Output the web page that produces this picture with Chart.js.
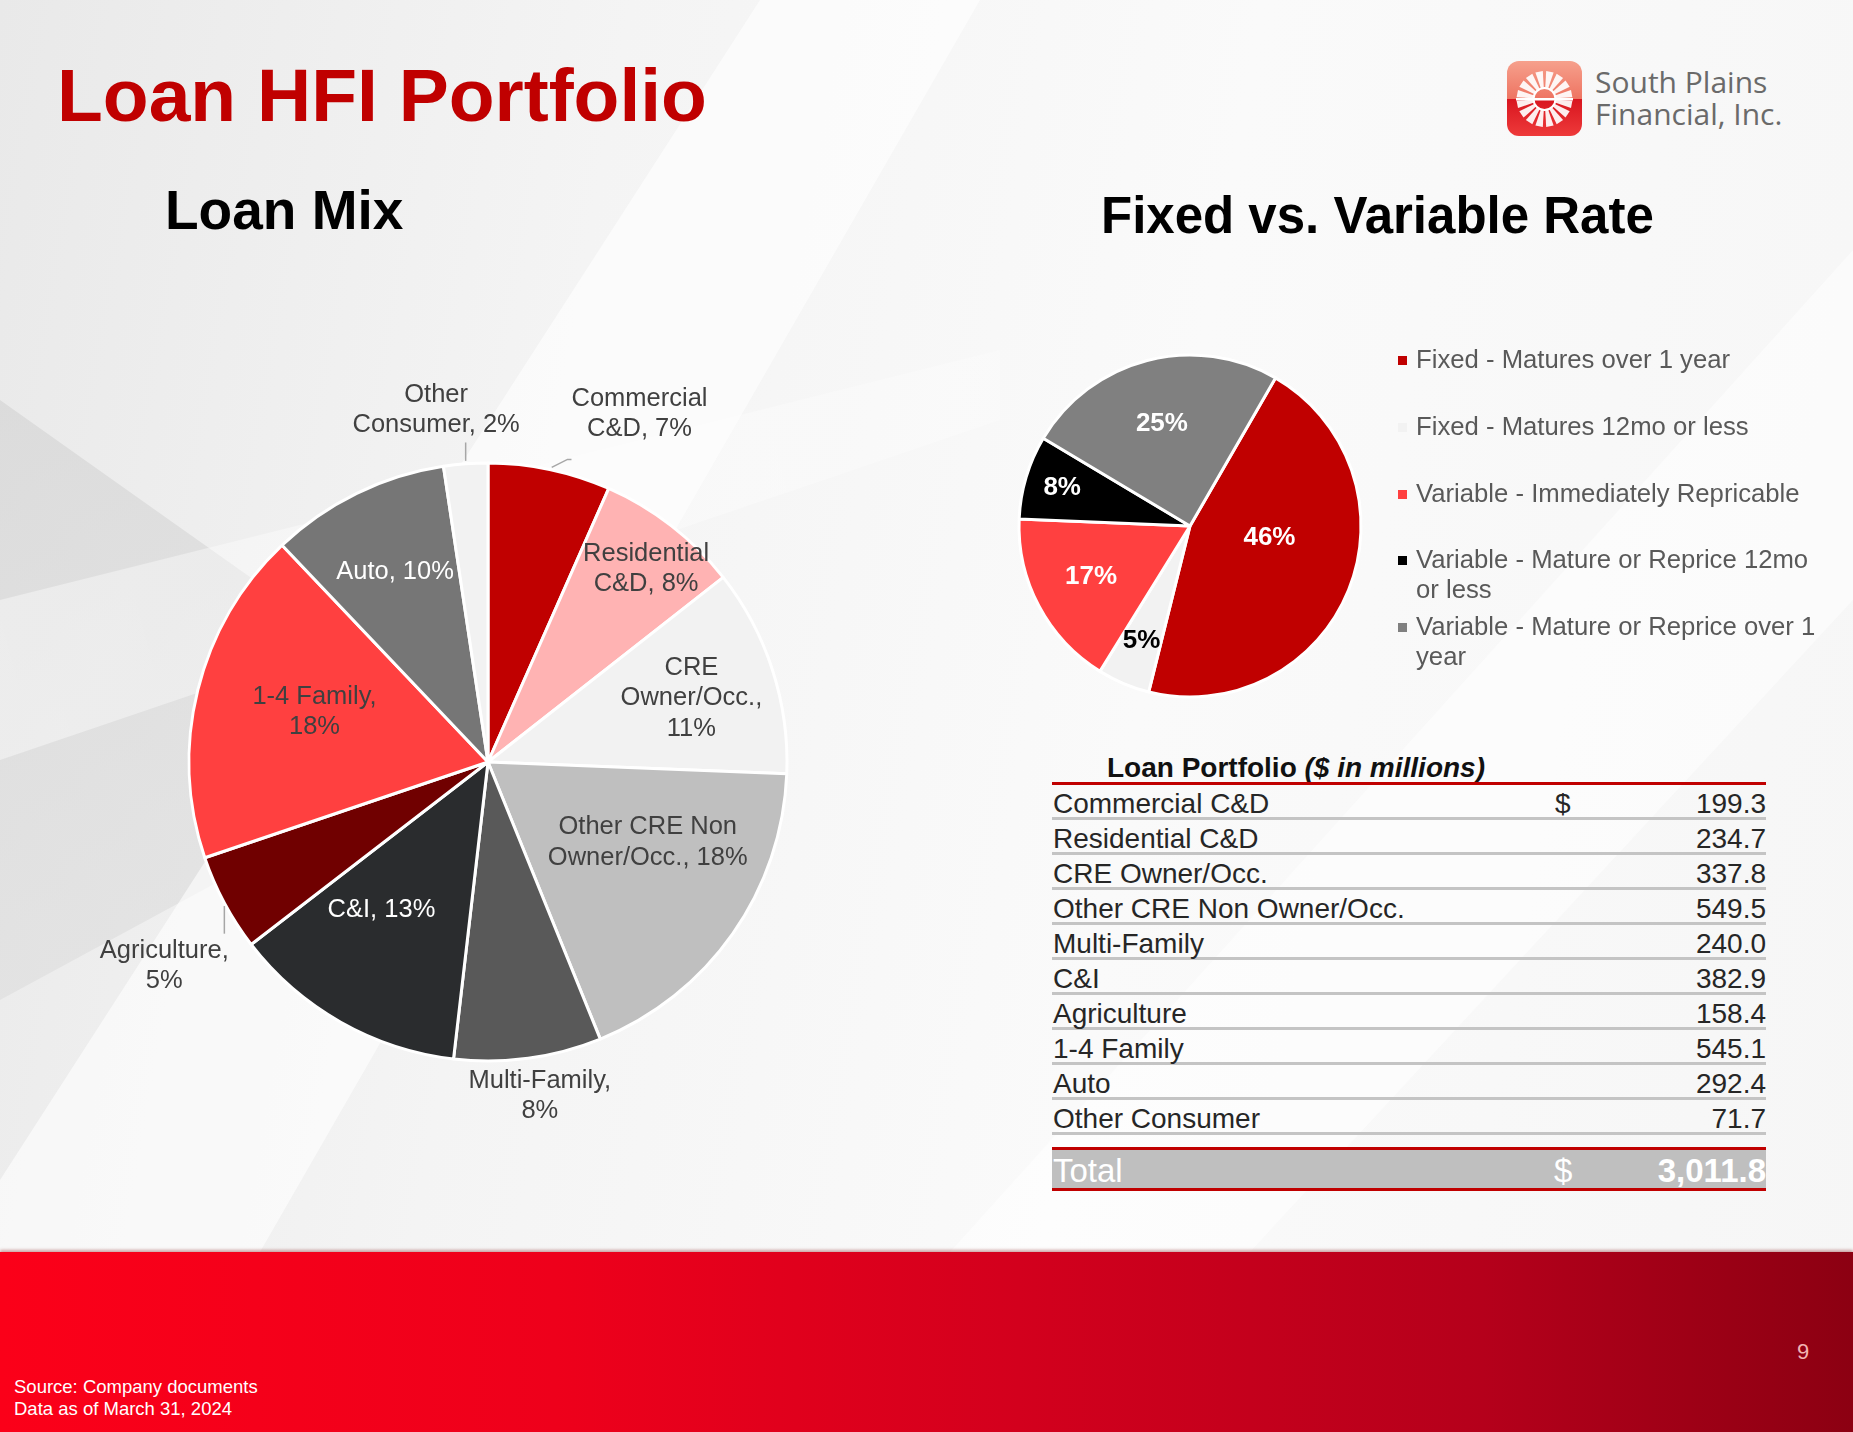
<!DOCTYPE html>
<html>
<head>
<meta charset="utf-8">
<script src="https://cdn.jsdelivr.net/npm/chart.js@4.4.1/dist/chart.umd.min.js"></script>
<style>
  html, body { margin: 0; padding: 0; }
  body {
    width: 1853px; height: 1432px; position: relative; overflow: hidden;
    font-family: "Liberation Sans", Arial, sans-serif;
    background: linear-gradient(100deg, #e9e9e9 0%, #f4f4f4 30%, #fafafa 60%, #f6f6f6 100%);
  }
  .bg { position: absolute; left: 0; top: 0; width: 1853px; height: 1432px; }
  .bg1 { background: linear-gradient(160deg, #cfcfcf 0%, #dedede 45%, #ececec 100%);
         clip-path: polygon(0 400px, 480px 740px, 0 1000px); opacity: .7; }
  .bg2 { background: rgba(255,255,255,.6);
         clip-path: polygon(760px 0, 980px 0, 260px 1252px, 0 1252px, 0 1180px); }
  .bg3 { background: rgba(255,255,255,.5);
         clip-path: polygon(1853px 250px, 1853px 600px, 1250px 1252px, 950px 1252px); }
  .bg4 { background: linear-gradient(75deg, rgba(255,255,255,.45) 0%, rgba(255,255,255,.3) 50%, rgba(255,255,255,0) 80%);
         clip-path: polygon(0 600px, 1000px 350px, 1000px 420px, 0 760px); }
  .abs { position: absolute; white-space: nowrap; }
  #title { left: 57px; top: 52px; font-size: 75px; font-weight: bold; color: #c00000; }
  #sub1 { left: 165px; top: 178px; font-size: 55px; font-weight: bold; color: #000; }
  #sub2 { left: 1101px; top: 186px; font-size: 51px; font-weight: bold; color: #000; }
  #logoText { left: 1595px; top: 66px; font-family: "Open Sans", sans-serif; font-size: 30px;
              line-height: 32px; color: #6a6a6a; }
  #legend { left: 1398px; top: 0; width: 440px; }
  .lg { position: absolute; left: 0; width: 440px; font-size: 25.7px; line-height: 29.5px; color: #595959; }
  .lg i { position: absolute; left: 0; top: 11px; width: 9px; height: 9px; }
  .lg span { display: block; margin-left: 18px; width: 412px; white-space: normal; }
  #tbl { left: 1052px; top: 0; width: 714px; }
  .row { position: absolute; left: 0; width: 714px; height: 32px; border-bottom: 3px solid #c4c4c4;
         font-size: 28px; line-height: 32px; color: #262626; }
  .row .l { position: absolute; left: 1px; top: 3px; }
  .row .d { position: absolute; left: 503px; top: 3px; }
  .row .v { position: absolute; right: 0; top: 3px; }
  #footer { left: 0; top: 1252px; width: 1853px; height: 180px;
            background: linear-gradient(90deg, #fb0019 0%, #ee001b 30%, #d3001d 55%, #b5001b 80%, #8c0012 100%);
            box-shadow: 0 -2px 3px rgba(120,0,0,.35); }
</style>
</head>
<body>
<div class="bg bg1"></div>
<div class="bg bg2"></div>
<div class="bg bg3"></div>
<div class="bg bg4"></div>

<div id="title" class="abs">Loan HFI Portfolio</div>
<div id="sub1" class="abs">Loan Mix</div>
<div id="sub2" class="abs">Fixed vs. Variable Rate</div>

<svg class="abs" style="left:1507px;top:61px" width="75" height="75" viewBox="0 0 75 75">
  <defs>
    <clipPath id="rr"><rect x="0" y="0" width="75" height="75" rx="12"/></clipPath>
    <linearGradient id="gTop" x1="0" y1="0" x2="0" y2="1">
      <stop offset="0" stop-color="#f6a08c"/><stop offset="1" stop-color="#ee7462"/>
    </linearGradient>
    <linearGradient id="gBot" x1="0" y1="0" x2="0" y2="1">
      <stop offset="0" stop-color="#d8151f"/><stop offset="1" stop-color="#ee3a3a"/>
    </linearGradient>
  </defs>
  <g clip-path="url(#rr)">
    <rect x="0" y="0" width="75" height="38" fill="url(#gTop)"/>
    <rect x="0" y="38" width="75" height="37" fill="url(#gBot)"/>
    <g id="burst"></g>
  </g>
</svg>
<div id="logoText" class="abs">South Plains<br>Financial, Inc.</div>

<canvas id="mixChart" class="abs" style="left:38px;top:362px" width="900" height="800"></canvas>
<canvas id="rateChart" class="abs" style="left:980px;top:316px" width="420" height="420"></canvas>
<div id="legend" class="abs"></div>

<div id="tbl" class="abs"></div>

<div id="footer" class="abs">
  <div class="abs" style="left:14px;top:124px;font-size:18.5px;line-height:21.5px;color:#fff;">Source: Company documents<br>Data as of March 31, 2024</div>
  <div class="abs" style="left:1797px;top:87px;font-size:22px;color:#f2b3b3;">9</div>
</div>

<script>
// loan mix ($ in millions)
const loanCategories = ["Commercial C&D", "Residential C&D", "CRE Owner/Occ.", "Other CRE Non Owner/Occ.",
  "Multi-Family", "C&I", "Agriculture", "1-4 Family", "Auto", "Other Consumer"];
const loanAmounts = [199.3, 234.7, 337.8, 549.5, 240.0, 382.9, 158.4, 545.1, 292.4, 71.7];
const loanColors = ["#c00000", "#ffb3b3", "#f2f2f2", "#bfbfbf", "#595959",
  "#2a2c2e", "#700000", "#ff4040", "#767676", "#f2f2f2"];
// how the data labels break, like in the slide
const loanLabelText = ["Commercial\nC&D", "Residential\nC&D", "CRE\nOwner/Occ.", "Other CRE Non\nOwner/Occ.",
  "Multi-Family", "C&I", "Agriculture", "1-4 Family", "Auto", "Other\nConsumer"];

// fixed vs variable (% of loans)
const rateCategories = ["Fixed - Matures over 1 year", "Fixed - Matures 12mo or less",
  "Variable - Immediately Repricable", "Variable - Mature or Reprice 12mo or less",
  "Variable - Mature or Reprice over 1 year"];
const ratePercents = [46, 5, 17, 8, 25];
const rateColors = ["#c00000", "#f2f2f2", "#ff4040", "#000000", "#808080"];

// label placement: r = fraction of radius, da = degrees off the slice middle
const mixPlace = [
  { r: 1.27, da: 11.6, color: "#404040", leader: "bend" },
  { r: 0.834, da: 1.5, color: "#404040" },
  { r: 0.713, da: 0.5, color: "#404040", wrapLast: true },
  { r: 0.598, da: -8.4, color: "#404040" },
  { r: 1.13, da: -1.1, color: "#404040", wrapLast: true },
  { r: 0.609, da: 6.3, color: "#ffffff" },
  { r: 1.28, da: -4.1, color: "#404040", leader: "v", wrapLast: true },
  { r: 0.604, da: 2.2, color: "#404040", wrapLast: true },
  { r: 0.708, da: 0, color: "#ffffff" },
  { r: 1.19, da: -4.1, color: "#404040", leader: "v" }
];
const ratePlace = [
  { r: 0.47, da: -13.4, color: "#ffffff" },
  { r: 0.73, da: 0, color: "#000000" },
  { r: 0.65, da: 0.8, color: "#ffffff" },
  { r: 0.78, da: 0, color: "#ffffff" },
  { r: 0.62, da: -0.8, color: "#ffffff" }
];

const sliceLabels = {
  id: "sliceLabels",
  afterDatasetsDraw(chart, args, opts) {
    const ctx = chart.ctx;
    const meta = chart.getDatasetMeta(0);
    const data = chart.data.datasets[0].data;
    const total = data.reduce((a, b) => a + b, 0);
    ctx.save();
    ctx.font = opts.font;
    ctx.textAlign = "center";
    ctx.textBaseline = "middle";
    meta.data.forEach((arc, i) => {
      const p = opts.place[i];
      const midTrue = (arc.startAngle + arc.endAngle) / 2;
      const mid = midTrue + p.da * Math.PI / 180;
      const R = arc.outerRadius;
      const x = arc.x + Math.cos(mid) * R * p.r;
      const y = arc.y + Math.sin(mid) * R * p.r;
      const lines = opts.text(i, data[i], total, p).split("\n");
      const lh = opts.lineHeight;
      let w = 0;
      lines.forEach(ln => { w = Math.max(w, ctx.measureText(ln).width); });
      const top = y - lines.length * lh / 2, bottom = y + lines.length * lh / 2;
      if (p.leader) {
        const ex = arc.x + Math.cos(midTrue) * R, ey = arc.y + Math.sin(midTrue) * R;
        ctx.strokeStyle = "#a6a6a6";
        ctx.lineWidth = 1.5;
        ctx.beginPath();
        if (p.leader === "v") {
          const ty = ey > y ? bottom + 2 : top - 2;
          ctx.moveTo(ex, ey + (ey > y ? -3 : 3));
          ctx.lineTo(ex, ty);
        } else {
          const left = x - w / 2;
          ctx.moveTo(ex + 2, ey - 2);
          ctx.lineTo(left - 4, ey - 10);
          ctx.lineTo(left, ey - 10);
        }
        ctx.stroke();
      }
      ctx.fillStyle = p.color;
      lines.forEach((ln, j) => ctx.fillText(ln, x, y + (j - (lines.length - 1) / 2) * lh));
    });
    ctx.restore();
  }
};

new Chart(document.getElementById("mixChart"), {
  type: "pie",
  data: {
    labels: loanCategories,
    datasets: [{ data: loanAmounts, backgroundColor: loanColors, borderColor: "#ffffff", borderWidth: 3 }]
  },
  options: {
    responsive: false,
    animation: false,
    radius: 299,
    plugins: {
      legend: { display: false },
      tooltip: { enabled: false },
      sliceLabels: {
        font: "25.5px 'Liberation Sans', Arial, sans-serif",
        lineHeight: 30.5,
        place: mixPlace,
        text: (i, v, total, p) => {
          const pct = Math.round(v / total * 100) + "%";
          return loanLabelText[i] + "," + (p.wrapLast ? "\n" : " ") + pct;
        }
      }
    }
  },
  plugins: [sliceLabels]
});

new Chart(document.getElementById("rateChart"), {
  type: "pie",
  data: {
    labels: rateCategories,
    datasets: [{ data: ratePercents, backgroundColor: rateColors, borderColor: "#ffffff", borderWidth: 3 }]
  },
  options: {
    responsive: false,
    animation: false,
    radius: 171,
    rotation: 30,
    plugins: {
      legend: { display: false },
      tooltip: { enabled: false },
      sliceLabels: {
        font: "bold 26px 'Liberation Sans', Arial, sans-serif",
        lineHeight: 28,
        place: ratePlace,
        text: (i, v) => v + "%"
      }
    }
  },
  plugins: [sliceLabels]
});

// legend for the rate chart
const legendTops = [345, 412, 479, 545, 612];
const legend = document.getElementById("legend");
rateCategories.forEach((c, i) => {
  const d = document.createElement("div");
  d.className = "lg";
  d.style.top = legendTops[i] + "px";
  d.innerHTML = '<i style="background:' + rateColors[i] + '"></i><span>' + c + "</span>";
  legend.appendChild(d);
});

// loan portfolio table
const tbl = document.getElementById("tbl");
const fmt = v => v.toLocaleString("en-US", { minimumFractionDigits: 1, maximumFractionDigits: 1 });
let h = '<div class="abs" style="left:55px;top:752px;font-size:28px;font-weight:bold;color:#111;">Loan Portfolio <i>($ in millions)</i></div>';
h += '<div class="abs" style="left:0;top:782px;width:714px;height:3px;background:#c00000;"></div>';
loanCategories.forEach((c, i) => {
  h += '<div class="row" style="top:' + (785 + 35 * i) + 'px"><span class="l">' + c + '</span>' +
    (i === 0 ? '<span class="d">$</span>' : "") + '<span class="v">' + fmt(loanAmounts[i]) + "</span></div>";
});
const total = loanAmounts.reduce((a, b) => a + b, 0);
h += '<div class="abs" style="left:0;top:1147px;width:714px;height:38px;background:#bfbfbf;border-top:3px solid #c00000;border-bottom:3px solid #c00000;color:#fff;">' +
  '<span class="abs" style="left:1px;top:2px;font-size:33px;">Total</span>' +
  '<span class="abs" style="left:502px;top:2px;font-size:33px;">$</span>' +
  '<span class="abs" style="right:0;top:2px;font-size:33px;font-weight:bold;">' + fmt(total) + "</span></div>";
tbl.innerHTML = h;

// logo sunburst
const burst = document.getElementById("burst");
let s = "";
for (let k = 0; k < 16; k++) {
  const a0 = (k / 16) * 2 * Math.PI + 0.06, a1 = ((k + 1) / 16) * 2 * Math.PI - 0.06;
  const r0 = 11, r1 = 28, cx = 37.5, cy = 38;
  const pt = (r, a) => (cx + r * Math.cos(a)).toFixed(1) + "," + (cy + r * Math.sin(a)).toFixed(1);
  s += '<path d="M' + pt(r0, a0) + " L" + pt(r1, a0) + " L" + pt(r1, a1) + " L" + pt(r0, a1) + ' Z" fill="#ffffff" opacity="0.92"/>';
}
s += '<circle cx="37.5" cy="38" r="11" fill="none" stroke="#fff" stroke-width="2"/>';
s += '<rect x="9" y="37" width="57" height="2.5" fill="#fff"/>';
burst.innerHTML = s;
</script>
</body>
</html>
